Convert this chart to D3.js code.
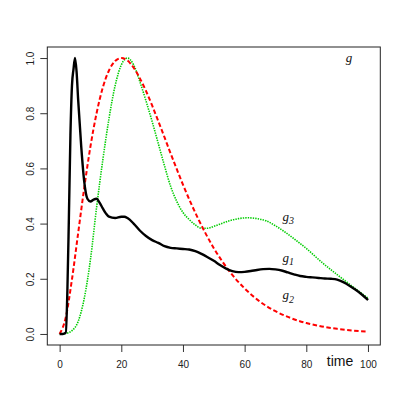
<!DOCTYPE html>
<html>
<head>
<meta charset="utf-8">
<script src="https://cdn.jsdelivr.net/npm/d3@7"></script>
<style>
html,body{margin:0;padding:0;background:#fff;}
svg{display:block;}
</style>
</head>
<body>
<svg id="chart" width="405" height="405"></svg>
<script>
// ---- data ----
const g1T = [0,1,2,2.5,3,3.5,4,4.5,5,5.5,6,7,8,9,10,11,12,13,14,15,16,18,20,21,22,24,26,28,30,32,34,36,38,40,42,44,46,48,50,52,54,56,58,60,62,64,66,68,70,72,74,76,78,80,82,84,86,88,90,92,94,96,98,100];
const g1V = [0,0,0.005,0.15,0.42,0.72,0.9,0.96,1.0,0.95,0.85,0.68,0.55,0.49,0.48,0.487,0.49,0.475,0.455,0.437,0.425,0.42,0.425,0.425,0.42,0.4,0.375,0.355,0.34,0.33,0.318,0.312,0.31,0.308,0.306,0.3,0.29,0.278,0.265,0.25,0.237,0.228,0.224,0.225,0.228,0.232,0.235,0.236,0.234,0.23,0.223,0.216,0.21,0.207,0.205,0.203,0.201,0.2,0.197,0.188,0.175,0.16,0.143,0.123];

const g2T = [0,2,4,6,8,10,12,14,16,18,20,22,24,26,28,30,32,34,36,38,40,45,50,55,60,65,70,75,80,85,90,95,100];
const g2V = [0,0.0605,0.198,0.365,0.531,0.68,0.801,0.893,0.955,0.989,1.0,0.991,0.965,0.927,0.881,0.828,0.771,0.713,0.654,0.597,0.541,0.416,0.311,0.228,0.165,0.117,0.0825,0.0575,0.0397,0.0272,0.0185,0.0125,0.0084];

const g3T = [0,2,4,6,8,10,12,14,16,18,20,22,24,26,28,30,32,34,36,38,40,42,44,46,48,50,52,55,58,61,64,67,70,73,76,80,85,90,95,100];
const g3V = [0,0.002,0.012,0.045,0.13,0.27,0.46,0.63,0.78,0.9,0.975,1.0,0.975,0.915,0.845,0.77,0.69,0.61,0.535,0.48,0.44,0.415,0.395,0.383,0.383,0.39,0.398,0.41,0.418,0.421,0.418,0.41,0.392,0.37,0.345,0.31,0.26,0.215,0.172,0.13];

const xTicks = [0,20,40,60,80,100];
const yTicks = [0.0,0.2,0.4,0.6,0.8,1.0];
const xLabel = "time";

// ---- layout ----
const svg = d3.select("#chart");
const L = 47.3, R = 380.3, T = 47, B = 345;
const x = d3.scaleLinear().domain([-4,104]).range([L,R]);
const y = d3.scaleLinear().domain([-0.04,1.04]).range([B,T]);

const font = "'Liberation Sans', Arial, Helvetica, sans-serif";
const serif = "'Liberation Serif', 'Times New Roman', serif";

// axes
const xa = svg.append("g").attr("transform",`translate(0,${B})`)
  .call(d3.axisBottom(x).tickValues(xTicks).tickSize(7).tickSizeOuter(0).tickFormat(d3.format("d")));
xa.select(".domain").remove();
xa.selectAll("line").attr("stroke","#333");
xa.selectAll("text").attr("y",22.5).attr("dy",0).attr("font-family",font).attr("font-size",10).attr("fill","#222");

const ya = svg.append("g").attr("transform",`translate(${L},0)`)
  .call(d3.axisLeft(y).tickValues(yTicks).tickSize(7).tickSizeOuter(0).tickFormat(d3.format(".1f")));
ya.select(".domain").remove();
ya.selectAll("line").attr("stroke","#333");
ya.selectAll("text").attr("x",0).attr("y",-13.5).attr("dy",0)
  .attr("transform","rotate(-90)").attr("text-anchor","middle")
  .attr("font-family",font).attr("font-size",10).attr("fill","#222");

// box
svg.append("rect").attr("x",L).attr("y",T).attr("width",R-L).attr("height",B-T)
  .attr("fill","none").attr("stroke","#222").attr("stroke-width",1);

// lines
const mk = (T_,V_) => T_.map((t,i)=>[t,V_[i]]);
const line = d3.line().x(d=>x(d[0])).y(d=>y(d[1])).curve(d3.curveMonotoneX);

svg.append("path").datum(mk(g3T,g3V)).attr("d",line).attr("fill","none")
  .attr("stroke","#00cd00").attr("stroke-width",1.6).attr("stroke-dasharray","1.4,1.1");
svg.append("path").datum(mk(g2T,g2V)).attr("d",line).attr("fill","none")
  .attr("stroke","#ff0000").attr("stroke-width",2).attr("stroke-dasharray","4.5,2.5");
svg.append("path").datum(mk(g1T,g1V)).attr("d",line).attr("fill","none")
  .attr("stroke","#000").attr("stroke-width",2.4).attr("stroke-linejoin","round");

// labels
function glabel(tx, vy, sub){
  const t = svg.append("text").attr("x",x(tx)).attr("y",y(vy))
    .attr("font-family",serif).attr("font-style","italic").attr("font-size",13).attr("fill","#111");
  t.append("tspan").text("g");
  if(sub) t.append("tspan").attr("dy",3.5).attr("font-size",10).text(sub);
}
glabel(72.3, 0.41, "3");
glabel(72.3, 0.262, "1");
glabel(72.3, 0.125, "2");
glabel(92.8, 0.985, null);

svg.append("text").attr("x",340).attr("y",365.5).attr("text-anchor","middle")
  .attr("font-family",font).attr("font-size",14).attr("fill","#111").text(xLabel);
</script>
</body>
</html>
